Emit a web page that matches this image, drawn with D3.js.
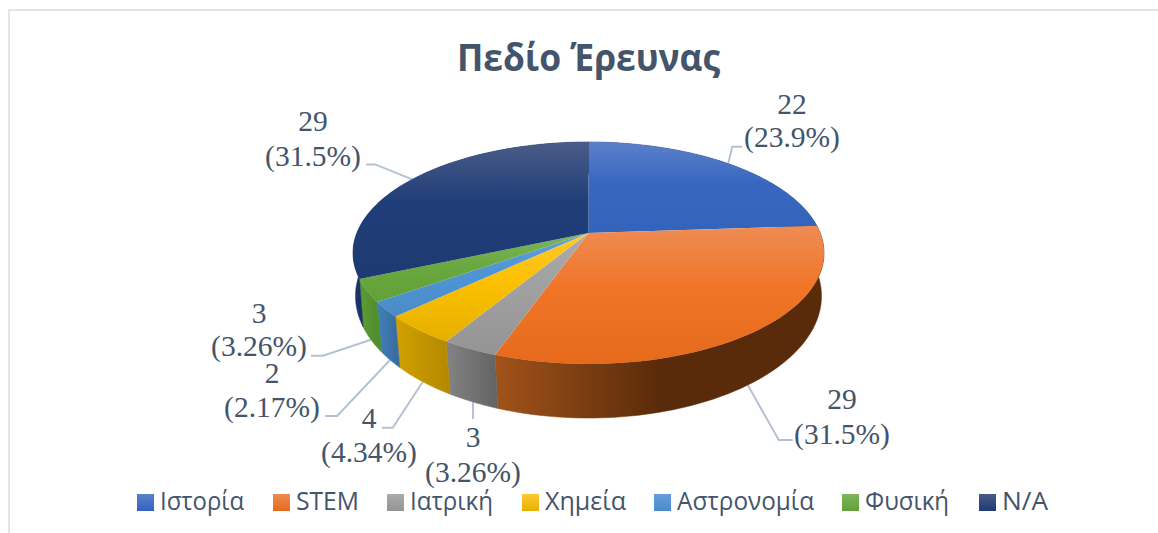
<!DOCTYPE html>
<html><head><meta charset="utf-8">
<script src="https://cdnjs.cloudflare.com/ajax/libs/d3/7.8.5/d3.min.js"></script>
<style>html,body{margin:0;padding:0;background:#fff}svg{display:block}</style>
</head><body><svg id="c" width="1158" height="533"></svg>
<script>
// ---- data ----
const categories = ["Ιστορία","STEM","Ιατρική","Χημεία","Αστρονομία","Φυσική","N/A"];
const values = [22,29,3,4,2,3,29];
const percents = ["23.9%","31.5%","3.26%","4.34%","2.17%","3.26%","31.5%"];
const titleText = "Πεδίο Έρευνας";
// ---- styles / layout ----
const topLight = ["#5c80ca","#ee8c55","#ababab","#ffc830","#649fd8","#7fb55c","#4a5c88"];
const topBase  = ["#3867c0","#f07527","#a0a0a0","#fcc000","#4f95d5","#6aa93f","#1f3d78"];
const topDark  = ["#3363bb","#e56a1b","#949494","#e6b000","#4a8cc8","#62a038","#1e3a72"];
const sideL    = ["#2a4a8c","#a2531a","#838383","#d2a200","#4080ba","#5c9c34","#1a3466"];
const sideR    = ["#2a4a8c","#5a2b0a","#636363","#b28800","#38699b","#4e8a2c","#142a55"];
const labelPos = [[792,114],[842,409],[473,447],[369,428],[272,383],[259,323],[313,131]];
const labelStep = [33,35,35,34,34,33,35];
const elbows = [
  [[4,-17],[14,-17]], [[31,55],[45,55]], [[0,17],[0,17]],
  [[-30,46],[-41,46]], [[-53,56],[-65,56]], [[-48,16],[-60,16]], [[-37,-15],[-46,-15]]
];
const legendSwatchX = [137,273,387,522,654,842,979];
const legendLen = [84,63,83,81,137,84,46];
const textCol = "#44546a";

const svg = d3.select("#c");
const defs = svg.append("defs");
const pie = d3.pie().sort(null).value(d=>d)(values);

// perspective projection of the unit circle: y grows towards the viewer
const projector = (cx,cy,b,a,k) => (theta,r=1) => {
  const X = r*Math.sin(theta), Y = -r*Math.cos(theta), w = 1-k*Y;
  return [cx+b*X/w, cy+a*Y/w];
};
const topP = projector(588.5,233,231.7,107.4,0.18);
const botP = projector(588.5,276.5,230,118.9,0.16);
const line = d3.line();
const samples = (a0,a1) => d3.range(0,61).map(i=>a0+(a1-a0)*i/60);

// gradients
pie.forEach((p,i)=>{
  const g = defs.append("linearGradient").attr("id","t"+i).attr("x1",0).attr("x2",0).attr("y1",0).attr("y2",1);
  [[0,topLight[i]],[0.45,topBase[i]],[1,topDark[i]]].forEach(s=>g.append("stop").attr("offset",s[0]).attr("stop-color",s[1]));
  const h = defs.append("linearGradient").attr("id","s"+i).attr("x1",0).attr("x2",1).attr("y1",0).attr("y2",0);
  const mid = i===1 ? 0.5 : 1;
  [[0,sideL[i]],[mid,sideR[i]],[1,sideR[i]]].forEach(s=>h.append("stop").attr("offset",s[0]).attr("stop-color",s[1]));
  const l = defs.append("linearGradient").attr("id","l"+i).attr("x1",0).attr("x2",0).attr("y1",0).attr("y2",1);
  [[0,topLight[i]],[1,topDark[i]]].forEach(s=>l.append("stop").attr("offset",s[0]).attr("stop-color",s[1]));
});

// frame
svg.append("path").attr("d","M9,533V10H1158").attr("fill","none").attr("stroke","#e1e5ec").attr("stroke-width",2);

// title
svg.append("text").attr("x",588.5).attr("y",71).attr("text-anchor","middle")
  .attr("font-family","'Open Sans'").attr("font-weight",700).attr("font-size",38)
  .attr("fill",textCol).attr("textLength",263).attr("lengthAdjust","spacingAndGlyphs").text(titleText);

// leader lines
pie.forEach((p,i)=>{
  const mid=(p.startAngle+p.endAngle)/2;
  const onBottom = Math.cos(mid) < 0;
  const start = (onBottom?botP:topP)(mid);
  const pts=[start].concat(elbows[i].map(e=>[start[0]+e[0],start[1]+e[1]]));
  svg.append("path").attr("d",line(pts)).attr("fill","none").attr("stroke","#b5c1d3").attr("stroke-width",2);
});

// sides (back first, the top faces cover what is hidden)
pie.forEach((p,i)=>{
  const s=samples(p.startAngle,p.endAngle);
  const band=s.map(a=>topP(a)).concat(s.slice().reverse().map(a=>botP(a)));
  svg.append("path").attr("d",line(band)+"Z").attr("fill",`url(#s${i})`).attr("stroke",`url(#s${i})`).attr("stroke-width",0.5);
});

// top faces
pie.forEach((p,i)=>{
  const s=samples(p.startAngle,p.endAngle);
  const wedge=[topP(0,0)].concat(s.map(a=>topP(a)));
  svg.append("path").attr("d",line(wedge)+"Z").attr("fill",`url(#t${i})`);
});

// data labels
pie.forEach((p,i)=>{
  const g=svg.append("g").attr("font-family","'Liberation Serif'").attr("font-size",29.5).attr("fill",textCol).attr("text-anchor","middle");
  g.append("text").attr("x",labelPos[i][0]).attr("y",labelPos[i][1]).text(values[i]);
  g.append("text").attr("x",labelPos[i][0]).attr("y",labelPos[i][1]+labelStep[i]).text("("+percents[i]+")");
});

// legend
categories.forEach((c,i)=>{
  svg.append("rect").attr("x",legendSwatchX[i]).attr("y",494).attr("width",17).attr("height",17).attr("fill",`url(#l${i})`);
  svg.append("text").attr("x",legendSwatchX[i]+23).attr("y",510).attr("font-family","'Open Sans'").attr("font-size",25)
    .attr("fill",textCol).attr("textLength",legendLen[i]).attr("lengthAdjust","spacingAndGlyphs").text(c);
});
</script></body></html>
